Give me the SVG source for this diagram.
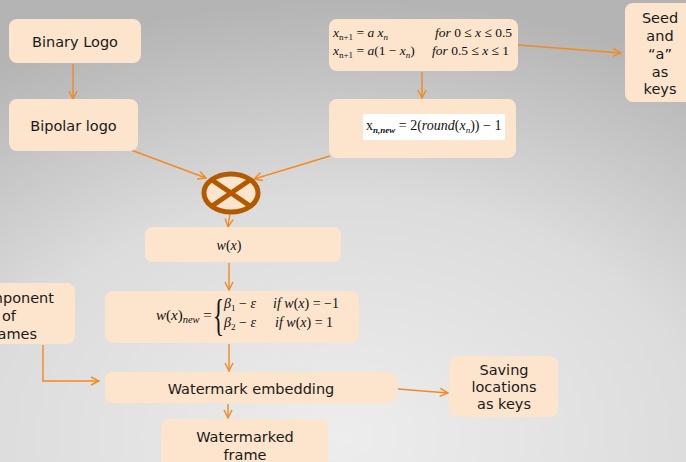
<svg xmlns="http://www.w3.org/2000/svg" width="686" height="462" viewBox="0 0 686 462">
  <defs>
    <radialGradient id="bg" cx="50%" cy="95%" r="95%" fx="50%" fy="95%">
      <stop offset="0" stop-color="#ededed"/>
      <stop offset="0.55" stop-color="#dcdcdc"/>
      <stop offset="1" stop-color="#b4b4b4"/>
    </radialGradient>
    <marker id="arr" viewBox="0 0 10 10" refX="9" refY="5" markerWidth="10" markerHeight="10" markerUnits="userSpaceOnUse" orient="auto">
      <path d="M1,1 L9,5 L1,9" fill="none" stroke="#f5891f" stroke-width="1.4"/>
    </marker>
    <style>
      .box { fill: #fde4cc; }
      .lbl { font-family: "DejaVu Sans", Verdana, sans-serif; font-size: 14.5px; fill: #1a1a1a; text-anchor: middle; }
      .lbl.end { text-anchor: end; }
      .lbl.start { text-anchor: start; }
      .math { font-family: "Liberation Serif", "Times New Roman", serif; font-size: 13.5px; fill: #111; }
      .math.big { font-size: 14px; }
      .brace { font-size: 46px; }
      .it { font-style: italic; }
      .sub { font-size: 9px; }
      .conn { fill: none; stroke: #f5891f; stroke-width: 1.4; marker-end: url(#arr); }
    </style>
  </defs>

  <rect width="686" height="462" fill="url(#bg)"/>

  <!-- connectors -->
  <g id="connectors">
    <path class="conn" d="M73,64 L73,99"/>
    <path class="conn" d="M131,150 L206,178"/>
    <path class="conn" d="M330,156 L254,179"/>
    <path class="conn" d="M422,72 L422,98"/>
    <path class="conn" d="M518,45 L621,53"/>
    <path class="conn" d="M230,213 L228,227"/>
    <path class="conn" d="M229,263 L229,290"/>
    <path class="conn" d="M229,344 L229,371"/>
    <path class="conn" d="M43,345 L43,381 L99,381"/>
    <path class="conn" d="M398,389 L448,393"/>
    <path class="conn" d="M228,404 L228,418"/>
  </g>

  <g id="binary-logo">
    <rect class="box" x="9" y="19" width="132" height="44" rx="8"/>
    <text class="lbl" x="75" y="46.5">Binary Logo</text>
  </g>

  <g id="bipolar-logo">
    <rect class="box" x="9" y="99" width="129" height="52" rx="8"/>
    <text class="lbl" x="73.5" y="130.5">Bipolar logo</text>
  </g>

  <g id="tent-map">
    <rect class="box" x="329" y="19" width="189" height="52" rx="8"/>
    <text class="math" x="333" y="37"><tspan class="it">x</tspan><tspan class="sub" dy="3">n+1</tspan><tspan dy="-3"> = </tspan><tspan class="it">a x</tspan><tspan class="sub it" dy="3">n</tspan></text>
    <text class="math" x="435" y="37"><tspan class="it">for</tspan> 0 ≤ <tspan class="it">x</tspan> ≤ 0.5</text>
    <text class="math" x="333" y="55"><tspan class="it">x</tspan><tspan class="sub" dy="3">n+1</tspan><tspan dy="-3"> = </tspan><tspan class="it">a</tspan>(1 − <tspan class="it">x</tspan><tspan class="sub it" dy="3">n</tspan><tspan dy="-3">)</tspan></text>
    <text class="math" x="432" y="55"><tspan class="it">for</tspan> 0.5 ≤ <tspan class="it">x</tspan> ≤ 1</text>
  </g>

  <g id="bipolar-map">
    <rect class="box" x="329" y="99" width="187" height="59" rx="8"/>
    <rect x="363" y="114" width="142" height="26" fill="#ffffff"/>
    <text class="math big" x="366" y="130"><tspan>x</tspan><tspan class="sub it" dy="3" font-weight="bold">n,new</tspan><tspan dy="-3"> = 2(</tspan><tspan class="it">round</tspan>(<tspan class="it">x</tspan><tspan class="sub it" dy="3">n</tspan><tspan dy="-3">)) − 1</tspan></text>
  </g>

  <g id="seed-keys">
    <rect class="box" x="625" y="3" width="72" height="99" rx="8"/>
    <text class="lbl" x="660" y="23">Seed</text>
    <text class="lbl" x="660" y="41">and</text>
    <text class="lbl" x="660" y="59">“a”</text>
    <text class="lbl" x="660" y="77">as</text>
    <text class="lbl" x="660" y="94">keys</text>
  </g>

  <g id="multiplier">
    <ellipse cx="231" cy="193" rx="27" ry="19" fill="#fde4cc" stroke="#b35a00" stroke-width="5"/>
    <path d="M212,180 L250,206 M250,180 L212,206" stroke="#b35a00" stroke-width="5" fill="none"/>
  </g>

  <g id="wx">
    <rect class="box" x="145" y="227" width="196" height="35" rx="7"/>
    <text class="math big" x="229" y="250" text-anchor="middle"><tspan class="it">w</tspan>(<tspan class="it">x</tspan>)</text>
  </g>

  <g id="wx-new">
    <rect class="box" x="105" y="291" width="254" height="52" rx="8"/>
    <text class="math" style="font-size:15px" x="156" y="320"><tspan class="it">w</tspan>(<tspan class="it">x</tspan>)<tspan class="it" style="font-size:10.5px" dy="3">new</tspan><tspan dy="-3"> =</tspan></text>
    <text class="math brace" transform="translate(213,330) scale(0.5,0.95)">{</text>
    <text class="math big" x="224" y="308"><tspan class="it">β</tspan><tspan class="sub" dy="3">1</tspan><tspan dy="-3"> − </tspan><tspan class="it">ε</tspan></text>
    <text class="math big" x="273" y="308"><tspan class="it">if w</tspan>(<tspan class="it">x</tspan>) = −1</text>
    <text class="math big" x="224" y="327"><tspan class="it">β</tspan><tspan class="sub" dy="3">2</tspan><tspan dy="-3"> − </tspan><tspan class="it">ε</tspan></text>
    <text class="math big" x="275" y="327"><tspan class="it">if w</tspan>(<tspan class="it">x</tspan>) = 1</text>
  </g>

  <g id="component-frames">
    <rect class="box" x="-80" y="283" width="155" height="61" rx="8"/>
    <text class="lbl end" x="54" y="303">Component</text>
    <text class="lbl start" x="2" y="321">of</text>
    <text class="lbl end" x="37" y="339">frames</text>
  </g>

  <g id="watermark-embedding">
    <rect class="box" x="105" y="372" width="292" height="31" rx="7"/>
    <text class="lbl" x="251" y="394">Watermark embedding</text>
  </g>

  <g id="saving-locations">
    <rect class="box" x="449" y="356" width="109" height="61" rx="8"/>
    <text class="lbl" x="504" y="375">Saving</text>
    <text class="lbl" x="504" y="392">locations</text>
    <text class="lbl" x="504" y="409">as keys</text>
  </g>

  <g id="watermarked-frame">
    <rect class="box" x="161" y="419" width="167" height="60" rx="8"/>
    <text class="lbl" x="245" y="442">Watermarked</text>
    <text class="lbl" x="245" y="460">frame</text>
  </g>
</svg>
